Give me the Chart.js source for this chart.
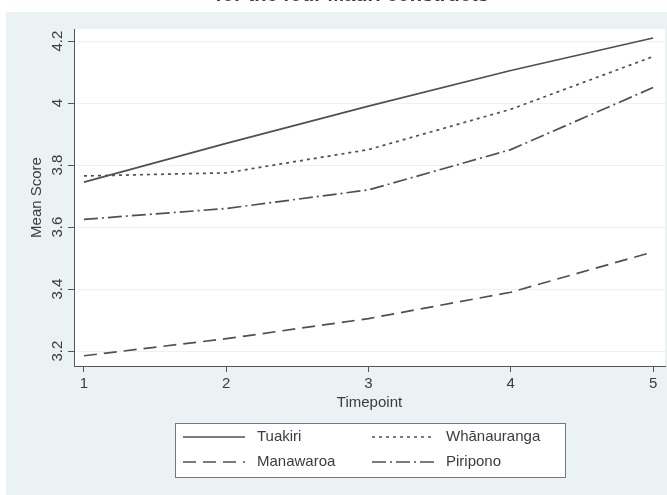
<!DOCTYPE html>
<html>
<head>
<meta charset="utf-8">
<script src="https://cdn.jsdelivr.net/npm/chart.js@4/dist/chart.umd.min.js"></script>
<style>
  body { margin: 0; background: #fff; }
  canvas { display: block; }
</style>
</head>
<body>
<canvas id="grafico" width="667" height="495"></canvas>
<script>
// --- data ---
const timepoints = [1, 2, 3, 4, 5];
const tuakiri = [3.745, 3.87, 3.99, 4.105, 4.21];
const whanauranga = [3.765, 3.775, 3.85, 3.98, 4.15];
const manawaroa = [3.185, 3.24, 3.305, 3.39, 3.52];
const piripono = [3.625, 3.66, 3.72, 3.85, 4.05];
const seriesNames = ['Tuakiri', 'Whānauranga', 'Manawaroa', 'Piripono'];
const yTicks = [3.2, 3.4, 3.6, 3.8, 4, 4.2];
const xTicks = [1, 2, 3, 4, 5];

const FONT = '"Liberation Sans", Arial, sans-serif';
const INK = '#3c3c3c';
const LINE = '#505050';
const BG = '#eaf2f3';

const pts = arr => timepoints.map((t, i) => ({ x: t, y: arr[i] }));

function serie(nome, valores, dash) {
    return {
        label: nome,
        data: pts(valores),
        borderColor: LINE,
        borderWidth: 1.7,
        borderDash: dash,
        pointRadius: 0,
        tension: 0,
        fill: false
    };
}

// background, title, legend, rotated y labels
const moldura = {
    id: 'moldura',
    beforeDraw(chart) {
        const ctx = chart.ctx;
        const a = chart.chartArea;
        ctx.save();
        ctx.fillStyle = '#fff';
        ctx.fillRect(0, 0, chart.width, chart.height);
        ctx.fillStyle = BG;
        ctx.fillRect(6, 12, chart.width - 6, chart.height - 12);
        ctx.fillStyle = '#fff';
        ctx.fillRect(a.left, a.top, a.right - a.left, a.bottom - a.top);
        // title, cut off at the top of the picture
        ctx.fillStyle = INK;
        ctx.font = 'bold 20px ' + FONT;
        ctx.textAlign = 'center';
        ctx.textBaseline = 'alphabetic';
        ctx.fillText('for the four Mauri constructs', 352, 1);
        ctx.restore();
    },
    afterDraw(chart) {
        const ctx = chart.ctx;
        const a = chart.chartArea;
        const y = chart.scales.y;
        ctx.save();
        ctx.fillStyle = INK;
        ctx.font = '15px ' + FONT;
        ctx.textAlign = 'center';
        ctx.textBaseline = 'middle';
        yTicks.forEach(v => {
            ctx.save();
            ctx.translate(58, y.getPixelForValue(v));
            ctx.rotate(-Math.PI / 2);
            ctx.fillText(String(v), 0, 0);
            ctx.restore();
        });
        // axis titles
        ctx.save();
        ctx.translate(37, (a.top + a.bottom) / 2);
        ctx.rotate(-Math.PI / 2);
        ctx.fillText('Mean Score', 0, 0);
        ctx.restore();
        ctx.fillText('Timepoint', (a.left + a.right) / 2, 403);

        // legend box
        ctx.fillStyle = '#fff';
        ctx.fillRect(175, 423, 390, 54);
        ctx.strokeStyle = '#777';
        ctx.lineWidth = 1;
        ctx.strokeRect(175.5, 423.5, 390, 54);
        const pos = [[183, 437], [372, 437], [183, 462], [372, 462]];
        chart.data.datasets.forEach((ds, i) => {
            const [lx, ly] = pos[i];
            ctx.strokeStyle = ds.borderColor;
            ctx.lineWidth = ds.borderWidth;
            ctx.setLineDash(ds.borderDash || []);
            ctx.beginPath();
            ctx.moveTo(lx, ly);
            ctx.lineTo(lx + 62, ly);
            ctx.stroke();
            ctx.setLineDash([]);
            ctx.fillStyle = INK;
            ctx.textAlign = 'left';
            ctx.fillText(ds.label, lx + 74, ly);
        });
        ctx.restore();
    }
};

new Chart(document.getElementById('grafico'), {
    type: 'line',
    data: {
        datasets: [
            serie(seriesNames[0], tuakiri, []),
            serie(seriesNames[1], whanauranga, [3, 4]),
            serie(seriesNames[2], manawaroa, [13, 7]),
            serie(seriesNames[3], piripono, [14, 4, 2, 4])
        ]
    },
    options: {
        responsive: false,
        animation: false,
        layout: { padding: { top: 29, right: 2, left: 0, bottom: 0 } },
        plugins: { legend: { display: false }, title: { display: false }, tooltip: { enabled: false } },
        scales: {
            x: {
                type: 'linear',
                min: 0.93,
                max: 5.084,
                afterBuildTicks: s => { s.ticks = xTicks.map(v => ({ value: v })); },
                afterFit: s => { s.height = 129; },
                grid: { drawOnChartArea: false, drawTicks: true, tickLength: 6, tickColor: '#555' },
                border: { display: true, color: '#555', width: 1 },
                ticks: { color: INK, font: { family: FONT, size: 15 }, padding: 3, maxRotation: 0 }
            },
            y: {
                type: 'linear',
                min: 3.152,
                max: 4.239,
                afterBuildTicks: s => { s.ticks = yTicks.map(v => ({ value: v })); },
                afterFit: s => { s.width = 74; },
                grid: { drawOnChartArea: true, color: BG, lineWidth: 1, drawTicks: true, tickLength: 6, tickColor: '#555' },
                border: { display: true, color: '#555', width: 1 },
                ticks: { display: false }
            }
        }
    },
    plugins: [moldura]
});
</script>
</body>
</html>
